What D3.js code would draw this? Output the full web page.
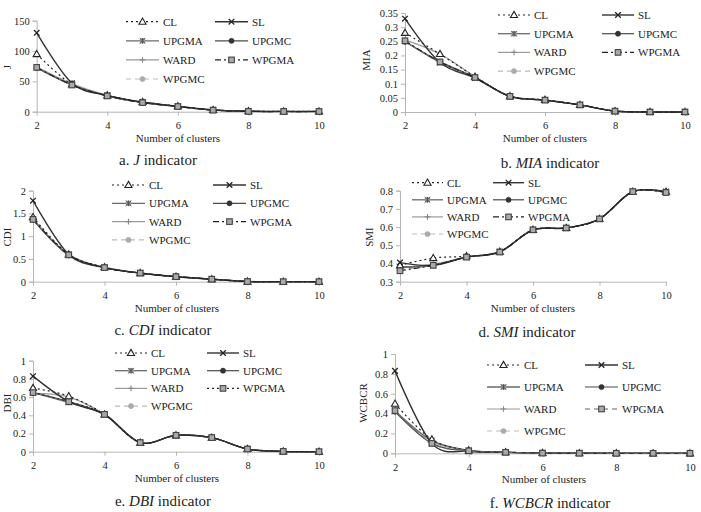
<!DOCTYPE html>
<html><head><meta charset="utf-8">
<script src="https://cdn.jsdelivr.net/npm/d3@7"></script>
<style>body{margin:0;background:#fff}svg{display:block}text{font-family:"Liberation Serif","Times New Roman",serif;fill:#222}</style>
</head><body><svg id="c" width="701" height="512"></svg>
<script>
const clusters = [2,3,4,5,6,7,8,9,10];
const seriesNames = ["CL","SL","UPGMA","UPGMC","WARD","WPGMA","WPGMC"];
const xTicks = [2,4,6,8,10];

const jValues = {
  CL:    [95, 45, 27, 16, 9, 3, 1, 0.5, 0.5],
  SL:    [130, 47, 27, 16, 9, 3, 1, 0.5, 0.5],
  UPGMA: [73, 44, 26, 15, 8.5, 2.5, 0.5, 0.3, 0.3],
  UPGMC: [72, 44, 26, 15, 8.5, 2.5, 0.5, 0.3, 0.3],
  WARD:  [74, 46, 27, 16, 9, 3, 0.5, 0.3, 0.3],
  WPGMA: [73, 44, 26, 15, 8.5, 2.5, 0.5, 0.3, 0.3],
  WPGMC: [73, 44, 26, 15, 8.5, 2.5, 0.5, 0.3, 0.3]
};
const miaValues = {
  CL:    [0.28, 0.205, 0.125, 0.056, 0.043, 0.025, 0.003, 0, 0],
  SL:    [0.33, 0.175, 0.12, 0.055, 0.042, 0.025, 0.003, 0, 0],
  UPGMA: [0.25, 0.175, 0.122, 0.055, 0.042, 0.025, 0.003, 0, 0],
  UPGMC: [0.248, 0.178, 0.122, 0.055, 0.042, 0.025, 0.003, 0, 0],
  WARD:  [0.255, 0.205, 0.125, 0.056, 0.043, 0.025, 0.003, 0, 0],
  WPGMA: [0.252, 0.177, 0.122, 0.055, 0.042, 0.025, 0.003, 0, 0],
  WPGMC: [0.25, 0.175, 0.122, 0.055, 0.042, 0.025, 0.003, 0, 0]
};
const cdiValues = {
  CL:    [1.42, 0.6, 0.32, 0.19, 0.11, 0.055, 0.003, 0, 0],
  SL:    [1.78, 0.6, 0.31, 0.19, 0.11, 0.055, 0.003, 0, 0],
  UPGMA: [1.37, 0.58, 0.31, 0.19, 0.11, 0.055, 0.003, 0, 0],
  UPGMC: [1.36, 0.58, 0.31, 0.19, 0.11, 0.055, 0.003, 0, 0],
  WARD:  [1.38, 0.6, 0.32, 0.19, 0.11, 0.055, 0.003, 0, 0],
  WPGMA: [1.37, 0.59, 0.31, 0.19, 0.11, 0.055, 0.003, 0, 0],
  WPGMC: [1.37, 0.58, 0.31, 0.19, 0.11, 0.055, 0.003, 0, 0]
};
const smiValues = {
  CL:    [0.39, 0.43, 0.44, 0.465, 0.585, 0.595, 0.645, 0.795, 0.795],
  SL:    [0.405, 0.39, 0.435, 0.465, 0.585, 0.595, 0.645, 0.795, 0.795],
  UPGMA: [0.38, 0.39, 0.435, 0.463, 0.585, 0.595, 0.645, 0.795, 0.79],
  UPGMC: [0.38, 0.39, 0.435, 0.463, 0.585, 0.595, 0.645, 0.795, 0.79],
  WARD:  [0.38, 0.395, 0.435, 0.463, 0.585, 0.595, 0.645, 0.795, 0.79],
  WPGMA: [0.36, 0.39, 0.435, 0.463, 0.585, 0.595, 0.645, 0.795, 0.79],
  WPGMC: [0.365, 0.39, 0.435, 0.463, 0.585, 0.595, 0.645, 0.795, 0.79]
};
const dbiValues = {
  CL:    [0.70, 0.61, 0.41, 0.1, 0.18, 0.155, 0.03, 0.003, 0],
  SL:    [0.83, 0.55, 0.41, 0.1, 0.18, 0.155, 0.03, 0.003, 0],
  UPGMA: [0.65, 0.54, 0.41, 0.1, 0.18, 0.155, 0.03, 0.003, 0],
  UPGMC: [0.65, 0.55, 0.41, 0.1, 0.18, 0.155, 0.03, 0.003, 0],
  WARD:  [0.64, 0.60, 0.41, 0.1, 0.18, 0.155, 0.03, 0.003, 0],
  WPGMA: [0.65, 0.55, 0.41, 0.1, 0.18, 0.155, 0.03, 0.003, 0],
  WPGMC: [0.64, 0.55, 0.41, 0.1, 0.18, 0.155, 0.03, 0.003, 0]
};
const wcbcrValues = {
  CL:    [0.5, 0.14, 0.03, 0.012, 0.003, 0.002, 0.001, 0, 0],
  SL:    [0.83, 0.1, 0.02, 0.01, 0.002, 0.001, 0, 0, 0],
  UPGMA: [0.43, 0.13, 0.03, 0.01, 0.002, 0.001, 0, 0, 0],
  UPGMC: [0.42, 0.1, 0.025, 0.01, 0.002, 0.001, 0, 0, 0],
  WARD:  [0.42, 0.12, 0.03, 0.01, 0.002, 0.001, 0, 0, 0],
  WPGMA: [0.43, 0.1, 0.025, 0.01, 0.002, 0.001, 0, 0, 0],
  WPGMC: [0.42, 0.12, 0.03, 0.01, 0.002, 0.001, 0, 0, 0]
};

const jTicks = [0,50,100,150];
const miaTicks = [0,0.05,0.1,0.15,0.2,0.25,0.3,0.35];
const cdiTicks = [0,0.5,1,1.5,2];
const smiTicks = [0.3,0.4,0.5,0.6,0.7,0.8];
const dbiTicks = [0,0.2,0.4,0.6,0.8,1];
const wcbcrTicks = [0,0.2,0.4,0.6,0.8,1];

const FONT = '"Liberation Serif","Times New Roman",serif';

const styles = {
  CL:    {stroke:"#222", dash:"2,3", width:1.2, marker:"triangle", fill:"#fff", mstroke:"#222"},
  SL:    {stroke:"#333", dash:null, width:1.4, marker:"x", fill:"none", mstroke:"#222"},
  UPGMA: {stroke:"#6a6a6a", dash:null, width:1.3, marker:"asterisk", fill:"#888", mstroke:"#555"},
  UPGMC: {stroke:"#4a4a4a", dash:null, width:1.2, marker:"circle", fill:"#333", mstroke:"#333"},
  WARD:  {stroke:"#9a9a9a", dash:null, width:1.2, marker:"plus", fill:"none", mstroke:"#888"},
  WPGMA: {stroke:"#222", dash:"6,3,2,3", width:1.2, marker:"square", fill:"#aaa", mstroke:"#444"},
  WPGMC: {stroke:"#bbb", dash:"5,4", width:1.1, marker:"circle", fill:"#aaa", mstroke:"#aaa"}
};
const drawOrder = ["WPGMC","WARD","UPGMC","UPGMA","CL","SL","WPGMA"];

const panels = [
  {letter:"a", name:"J", data:jValues, ticks:jTicks, domain:[0,150], fmt:d=>String(d),
   x0:36.7, x1:319, yT:20.7, yB:111.7, ylx:7, yly:67, nx:178, ny:138, tx:158, ty:160,
   leg:{y0:21.7, dy:19.1, l1:126, l2:215, len:33}},
  {letter:"b", name:"MIA", data:miaValues, ticks:miaTicks, domain:[0,0.35], fmt:d=>String(+d.toFixed(2)),
   x0:405, x1:685, yT:13, yB:112, ylx:366, yly:60, nx:545, ny:138, tx:550, ty:163,
   leg:{y0:15, dy:18.7, l1:498, l2:602, len:32}},
  {letter:"c", name:"CDI", data:cdiValues, ticks:cdiTicks, domain:[0,2], fmt:d=>String(d),
   x0:33, x1:319, yT:190.7, yB:281.7, ylx:7, yly:237, nx:177, ny:308, tx:163, ty:330,
   leg:{y0:185, dy:18.3, l1:112, l2:213, len:33}},
  {letter:"d", name:"SMI", data:smiValues, ticks:smiTicks, domain:[0.3,0.8], fmt:d=>String(+d.toFixed(1)),
   x0:400, x1:666, yT:190.7, yB:281.7, ylx:369, yly:237, nx:533, ny:308, tx:527, ty:332,
   leg:{y0:182.7, dy:17.1, l1:412, l2:493, len:31}},
  {letter:"e", name:"DBI", data:dbiValues, ticks:dbiTicks, domain:[0,1], fmt:d=>String(+d.toFixed(1)),
   x0:33, x1:319, yT:360.7, yB:451.7, ylx:7, yly:403, nx:177, ny:478, tx:163, ty:501,
   leg:{y0:353, dy:17.7, l1:115, l2:207, len:32}, over:{WPGMA:{dash:"2,3"}}},
  {letter:"f", name:"WCBCR", data:wcbcrValues, ticks:wcbcrTicks, domain:[0,1], fmt:d=>String(+d.toFixed(1)),
   x0:395, x1:690, yT:354, yB:453.3, ylx:363, yly:403, nx:544, ny:479, tx:550, ty:503,
   leg:{y0:365, dy:22, l1:487, l2:585, len:33}, over:{WPGMA:{dash:"5,4", stroke:"#666"}}}
];

const svg = d3.select("#c");
const axisColor = "#b5b5b5";

function drawMarker(g, type, x, y, st){
  const s = 2.8;
  if(type==="triangle"){
    g.append("path").attr("d", d3.symbol(d3.symbolTriangle, 22)()).attr("transform",`translate(${x},${y+0.5})`)
      .attr("fill", st.fill).attr("stroke", st.mstroke).attr("stroke-width",1.1);
  } else if(type==="square"){
    g.append("rect").attr("x",x-2.8).attr("y",y-2.8).attr("width",5.6).attr("height",5.6)
      .attr("fill", st.fill).attr("stroke", st.mstroke).attr("stroke-width",1.1);
  } else if(type==="circle"){
    g.append("circle").attr("cx",x).attr("cy",y).attr("r",2.6).attr("fill",st.fill).attr("stroke",st.mstroke).attr("stroke-width",0.5);
  } else if(type==="x"){
    g.append("path").attr("d",`M${x-s},${y-s}L${x+s},${y+s}M${x-s},${y+s}L${x+s},${y-s}`)
      .attr("stroke", st.mstroke).attr("stroke-width",1.3).attr("fill","none");
  } else if(type==="plus"){
    g.append("path").attr("d",`M${x-s},${y}L${x+s},${y}M${x},${y-s}L${x},${y+s}`)
      .attr("stroke", st.mstroke).attr("stroke-width",1.1).attr("fill","none");
  } else if(type==="asterisk"){
    g.append("rect").attr("x",x-2.6).attr("y",y-2.6).attr("width",5.2).attr("height",5.2).attr("fill","#999").attr("stroke","none");
    g.append("path").attr("d",`M${x-s},${y-s}L${x+s},${y+s}M${x-s},${y+s}L${x+s},${y-s}M${x},${y-s}L${x},${y+s}`)
      .attr("stroke", "#555").attr("stroke-width",1).attr("fill","none");
  }
}

panels.forEach(p => {
  const g = svg.append("g");
  const x = d3.scaleLinear().domain([2,10]).range([p.x0, p.x1]);
  const y = d3.scaleLinear().domain(p.domain).range([p.yB, p.yT]);

  const ya = g.append("g").attr("transform",`translate(${p.x0},0)`)
    .call(d3.axisLeft(y).tickValues(p.ticks).tickFormat(p.fmt).tickSize(4).tickPadding(3));
  ya.attr("font-family", FONT);
  ya.select(".domain").attr("stroke",axisColor);
  ya.selectAll(".tick line").attr("stroke",axisColor);
  ya.selectAll("text").attr("font-size",10.5).attr("fill","#333").attr("font-family",FONT);

  const xa = g.append("g").attr("transform",`translate(0,${p.yB})`)
    .call(d3.axisBottom(x).tickValues(xTicks).tickFormat(d3.format("d")).tickSize(4).tickSizeOuter(0).tickPadding(6));
  xa.attr("font-family", FONT);
  xa.select(".domain").attr("stroke",axisColor);
  xa.selectAll(".tick line").attr("stroke",axisColor);
  xa.selectAll("text").attr("font-size",10.5).attr("fill","#333").attr("font-family",FONT);

  const line = d3.line().x((d,i)=>x(clusters[i])).y(d=>y(d)).curve(d3.curveCardinal.tension(0));
  drawOrder.forEach(name => {
    const st = Object.assign({}, styles[name], (p.over||{})[name]||{});
    g.append("path").attr("d", line(p.data[name])).attr("fill","none")
      .attr("stroke", st.stroke).attr("stroke-width", st.width)
      .attr("stroke-dasharray", st.dash);
  });
  drawOrder.forEach(name => {
    const st = Object.assign({}, styles[name], (p.over||{})[name]||{});
    p.data[name].forEach((v,i) => drawMarker(g, st.marker, x(clusters[i]), y(v), st));
  });

  seriesNames.forEach((name,i) => {
    const st = Object.assign({}, styles[name], (p.over||{})[name]||{});
    const col = i%2, row = Math.floor(i/2);
    const lx = col===0 ? p.leg.l1 : p.leg.l2;
    const ly = p.leg.y0 + row*p.leg.dy;
    g.append("line").attr("x1",lx).attr("x2",lx+p.leg.len).attr("y1",ly).attr("y2",ly)
      .attr("stroke",st.stroke).attr("stroke-width",st.width).attr("stroke-dasharray",st.dash);
    drawMarker(g, st.marker, lx+p.leg.len/2, ly, st);
    g.append("text").attr("x",lx+p.leg.len+4).attr("y",ly+4).attr("font-size",11).attr("font-family",FONT).text(name);
  });

  g.append("text").attr("transform",`translate(${p.ylx+4},${p.yly}) rotate(-90)`).attr("text-anchor","middle")
    .attr("font-size",11).attr("font-family",FONT).text(p.name);
  g.append("text").attr("x",p.nx).attr("y",p.ny+4).attr("text-anchor","middle").attr("font-size",11).attr("font-family",FONT).text("Number of clusters");
  const t = g.append("text").attr("x",p.tx).attr("y",p.ty+5).attr("text-anchor","middle").attr("font-size",15).attr("font-family",FONT);
  t.append("tspan").text(p.letter + ". ");
  t.append("tspan").attr("font-style","italic").text(p.name);
  t.append("tspan").text(" indicator");
});
</script>
</body></html>
